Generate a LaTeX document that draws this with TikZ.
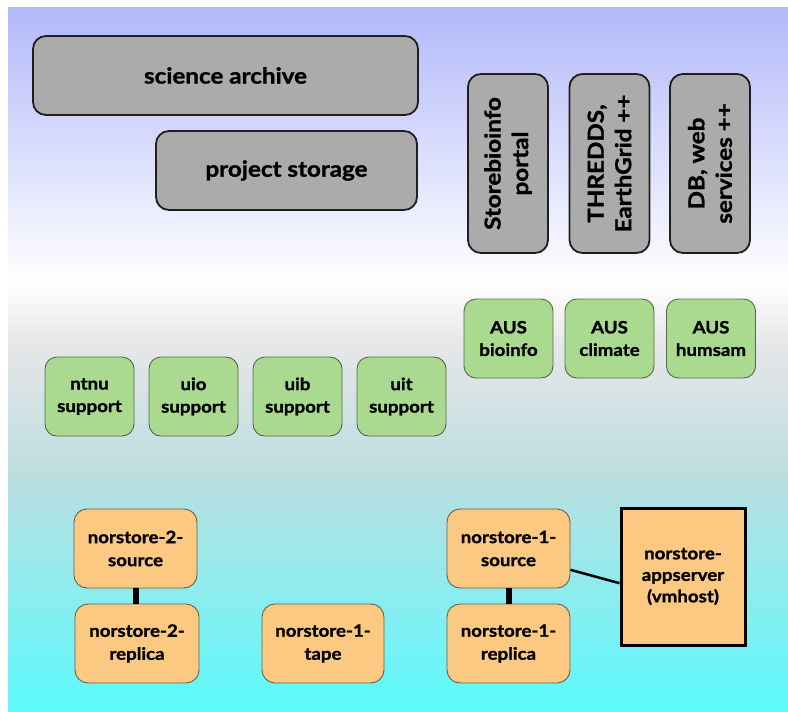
\documentclass[tikz,border=0pt]{standalone}
\usepackage{fontspec}
\setmainfont{Lato}[BoldFeatures={FakeBold=1.2,FakeStretch=1.1}]
\definecolor{grayfill}{RGB}{171,171,171}
\definecolor{greenfill}{RGB}{169,218,143}
\definecolor{greenborder}{RGB}{85,105,75}
\definecolor{orangefill}{RGB}{251,201,130}
\definecolor{orangeborder}{RGB}{105,95,75}
\definecolor{bgtop}{RGB}{178,184,249}
\definecolor{bgwhite}{RGB}{255,255,255}
\definecolor{bggray}{RGB}{230,230,232}
\definecolor{bgteal}{RGB}{190,222,224}
\definecolor{bgcyan}{RGB}{92,250,252}
\tikzset{
  graybox/.style={draw=black!88, line width=1.8pt, fill=grayfill, rounded corners=13pt,
    align=center, inner sep=0pt, font=\bfseries\fontsize{22}{26}\selectfont},
  vbox/.style={graybox, rotate=90, minimum width=179pt, minimum height=80pt,
    font=\bfseries\fontsize{22}{27.5}\selectfont},
  greenbox/.style={draw=greenborder, line width=0.9pt, fill=greenfill, rounded corners=12pt,
    minimum width=89pt, minimum height=79pt, align=center, inner sep=0pt,
    font=\bfseries\fontsize{17}{22.5}\selectfont},
  orangebox/.style={draw=orangeborder, line width=0.9pt, fill=orangefill, rounded corners=13pt,
    minimum width=123pt, minimum height=79pt, align=center, inner sep=0pt,
    font=\bfseries\fontsize{17}{23}\selectfont},
  link/.style={draw=black, line width=6pt},
  thinlink/.style={draw=black, line width=2.5pt}
}
\begin{document}
\begin{tikzpicture}[x=1pt,y=-1pt]
\useasboundingbox (0,0) rectangle (788,712);
\fill[white] (0,0) rectangle (788,712);
% background gradient
\shade[top color=bgtop, bottom color=bgwhite] (8,7) rectangle (788,282);
\shade[top color=bgwhite, bottom color=bggray] (8,281.5) rectangle (788,345);
\shade[top color=bggray, bottom color=bgteal] (8,344.5) rectangle (788,470);
\shade[top color=bgteal, bottom color=bgcyan] (8,469.5) rectangle (788,712);
% gray boxes
\node[graybox, minimum width=385pt, minimum height=79pt] (science) at (225.5,75.5) {science archive};
\node[graybox, minimum width=261pt, minimum height=79pt] (project) at (286.5,170.5) {project storage};
\node[vbox] (storebio) at (508,163.5) {Storebioinfo\\portal};
\node[vbox] (thredds) at (609.5,163.5) {THREDDS,\\EarthGrid ++};
\node[vbox] (dbweb) at (710,163.5) {DB, web\\services ++};
% green boxes
\node[greenbox] (ausbio) at (508.5,338.5) {AUS\\bioinfo};
\node[greenbox] (ausclim) at (609.5,338.5) {AUS\\climate};
\node[greenbox] (aushum) at (711,338.5) {AUS\\humsam};
\node[greenbox] (ntnu) at (89.5,396.5) {ntnu\\support};
\node[greenbox] (uio) at (193.5,396.5) {uio\\support};
\node[greenbox] (uib) at (297.5,396.5) {uib\\support};
\node[greenbox] (uit) at (401.5,396.5) {uit\\support};
% orange boxes
\node[orangebox] (n2source) at (135.5,548.5) {norstore-2-\\source};
\node[orangebox, minimum width=124pt] (n2replica) at (137,643.5) {norstore-2-\\replica};
\node[orangebox, minimum width=122pt] (n1tape) at (323,643.5) {norstore-1-\\tape};
\node[orangebox] (n1source) at (508.5,548.5) {norstore-1-\\source};
\node[orangebox] (n1replica) at (508.5,643.5) {norstore-1-\\replica};
\node[orangebox, draw=black, line width=3pt, rounded corners=0pt, minimum width=124pt,
  minimum height=137pt, font=\bfseries\fontsize{17}{21.5}\selectfont] (appserver) at (683,576.5) {norstore-\\appserver\\(vmhost)};
% connectors
\draw[thinlink] (n1source.-19) -- (appserver.186);
\draw[link] (n2source.south) -- (n2source.south |- n2replica.north);
\draw[link] (n1source.south) -- (n1replica.north);
\end{tikzpicture}
\end{document}
